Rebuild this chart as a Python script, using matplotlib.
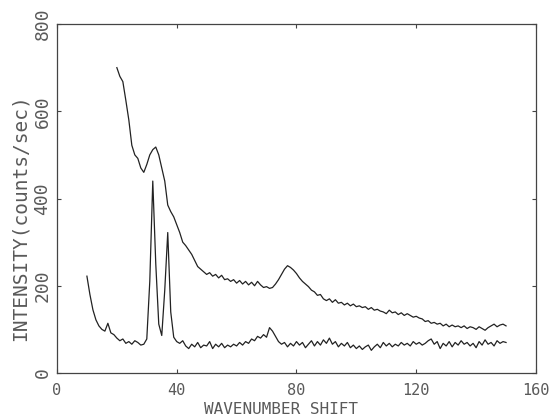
import numpy as np
import matplotlib.pyplot as plt

# lower spectrum, one value per wavenumber from 10 to 150
lowX = np.arange(10, 151)
lowY = [222, 180, 145, 122, 108, 100, 96, 114, 92, 88,
        80, 74, 78, 68, 72, 66, 74, 70, 64, 66,
        78, 210, 440, 250, 112, 86, 190, 322, 140, 82,
        72, 68, 74, 62, 56, 66, 60, 70, 58, 64,
        62, 72, 56, 66, 60, 68, 58, 64, 60, 66,
        62, 70, 64, 72, 68, 78, 74, 84, 80, 88,
        82, 104, 96, 84, 72, 66, 70, 60, 68, 62,
        72, 64, 70, 58, 66, 74, 62, 72, 64, 76,
        68, 80, 66, 72, 60, 68, 62, 70, 58, 64,
        56, 62, 54, 60, 64, 52, 60, 66, 58, 70,
        62, 68, 60, 66, 62, 70, 64, 68, 62, 72,
        66, 70, 64, 68, 74, 78, 66, 72, 56, 68,
        62, 72, 60, 70, 64, 74, 66, 70, 62, 68,
        58, 72, 64, 76, 66, 70, 62, 74, 68, 72,
        70]

# upper spectrum, 20 to 150
upX = np.arange(20, 151)
upY = [700, 680, 668, 625, 580, 522, 500, 492, 470, 460,
       478, 500, 512, 518, 500, 470, 440, 385, 370, 358,
       340, 322, 300, 292, 282, 272, 258, 244, 238, 232,
       226, 230, 222, 226, 218, 224, 214, 216, 210, 214,
       206, 212, 204, 210, 202, 208, 200, 210, 202, 196,
       198, 194, 196, 204, 214, 226, 238, 246, 242, 236,
       228, 218, 210, 204, 198, 190, 186, 178, 180, 170,
       166, 170, 162, 168, 160, 162, 156, 160, 154, 158,
       152, 154, 150, 152, 146, 150, 144, 146, 142, 140,
       136, 144, 138, 140, 134, 138, 132, 136, 132, 128,
       130, 126, 124, 118, 120, 114, 116, 112, 114, 108,
       112, 106, 110, 106, 108, 104, 108, 102, 106, 104,
       100, 106, 102, 98, 104, 108, 112, 106, 110, 112,
       108]

xTicks = [0, 40, 80, 120, 160]
yTicks = [0, 200, 400, 600, 800]

txtCol = '#5a5a5a'
mono = 'DejaVu Sans Mono'
fig = plt.figure(figsize=(5.5, 4.17), dpi=100)
ax = fig.add_axes([0.1036, 0.1055, 0.8709, 0.8369])
ax.plot(lowX, lowY, color='#222222', lw=0.9)
ax.plot(upX, upY, color='#222222', lw=0.9)
ax.set_xlim(0, 160)
ax.set_ylim(0, 800)
ax.set_xticks(xTicks)
ax.set_yticks(yTicks)
ax.tick_params(direction='in', length=3, width=0.8, color='#444444',
               top=True, right=True, labelcolor=txtCol)
ax.tick_params(axis='x', labelsize=11, pad=7)
ax.tick_params(axis='y', labelsize=13, pad=4)
for lab in ax.get_xticklabels() + ax.get_yticklabels():
    lab.set_family(mono)
for lab in ax.get_yticklabels():
    lab.set_rotation(90)
    lab.set_va('center')
for sp in ax.spines.values():
    sp.set_color('#444444')
    sp.set_linewidth(0.9)
ax.set_xlabel('WAVENUMBER SHIFT', family=mono, fontsize=11.5,
              color=txtCol, va='center')
ax.set_ylabel('INTENSITY(counts/sec)', family=mono, fontsize=14,
              color=txtCol, va='center')
ax.xaxis.set_label_coords(0.468, -0.106)
ax.yaxis.set_label_coords(-0.077, 0.444)

fig.savefig('out.png', dpi=100)
